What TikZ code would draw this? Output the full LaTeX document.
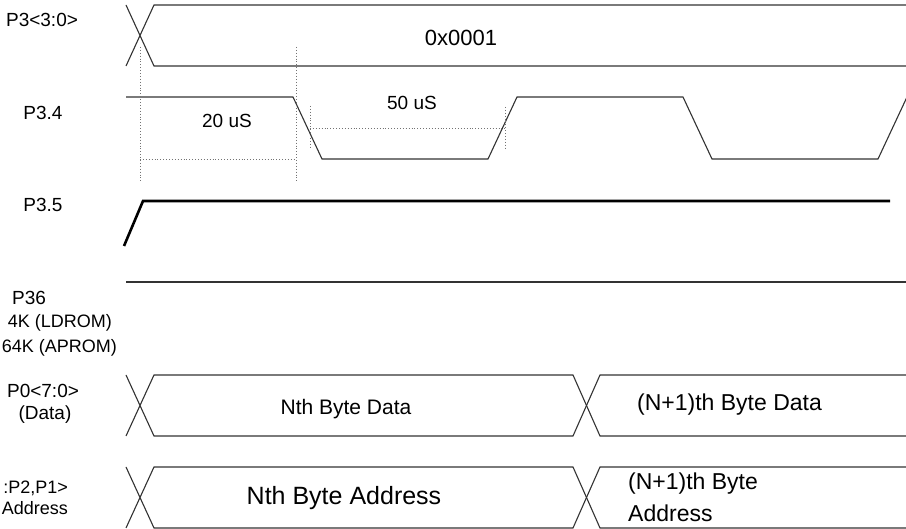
\documentclass[tikz,border=0pt]{standalone}
\usepackage{fontspec}
\setmainfont{Liberation Sans}
\begin{document}
\begin{tikzpicture}[x=1pt,y=-1pt,
  wave/.style={line width=1.1pt, draw=black!80, line join=miter},
  thick wave/.style={line width=2.6pt, draw=black},
  dim/.style={line width=0.9pt, draw=black!55, dotted},
  lbl/.style={inner sep=0pt, font=\fontsize{19}{22}\selectfont},
  slbl/.style={inner sep=0pt, font=\fontsize{18}{21}\selectfont}]
\useasboundingbox (0,0) rectangle (906,529);
\clip (0,0) rectangle (906,529);
\fill[white] (0,0) rectangle (906,529);

% signal labels
\node[lbl] (lp3) at (42,20) {P3<3:0>};
\node[lbl] (lp34) at (43,113) {P3.4};
\node[lbl] (lp35) at (43,205) {P3.5};
\node[lbl] (lp36a) at (29,298) {P36};
\node[slbl, anchor=east] (lp36b) at (112,323) {4K (LDROM)};
\node[slbl, anchor=east] (lp36c) at (117,348) {64K (APROM)};
\node[lbl] (lp0a) at (43,391) {P0<7:0>};
\node[lbl] (lp0b) at (45,415) {(Data)};
\node[slbl, anchor=east] (lp2a) at (68,488) {:P2,P1>};
\node[slbl, anchor=east] (lp2b) at (68,508) {Address};

% P3<3:0> bus
\draw[wave] (126,5) -- (154,66) -- (906,66);
\draw[wave] (126,66) -- (154,5) -- (906,5);
\node[inner sep=0pt, font=\fontsize{22}{26}\selectfont] (v1) at (461,38) {0x0001};

% P3.4
\draw[wave] (126,97) -- (293,97) -- (322,159) -- (488,159) -- (517,97) -- (683,97) -- (712,159) -- (878,159) -- (907,97);

% timing marks
\coordinate (t0a) at (140,47); \coordinate (t0b) at (140,181);
\coordinate (t1a) at (296,47); \coordinate (t1b) at (296,181);
\draw[dim] (t0a) -- (t0b);
\draw[dim] (t1a) -- (t1b);
\draw[dim] (140,159) -- (296,159);
\draw[dim] (310,106) -- (310,148);
\draw[dim] (505,107) -- (505,148);
\draw[dim] (310,128) -- (505,128);
\node[lbl] (d20) at (227,121) {20 uS};
\node[lbl] (d50) at (412,103) {50 uS};

% P3.5
\draw[thick wave] (124,246) -- (143,201) -- (890,201);

% P36
\draw[wave] (126,282) -- (906,282);

% Data bus
\draw[wave] (126,375) -- (154,436) -- (573,436) -- (600,375) -- (906,375);
\draw[wave] (126,436) -- (154,375) -- (573,375) -- (600,436) -- (906,436);
\node[inner sep=0pt, font=\fontsize{21}{24}\selectfont] (nd) at (346,409) {Nth Byte Data};
\node[inner sep=0pt, font=\fontsize{23}{26}\selectfont, anchor=west] (nd1) at (637,405) {(N+1)th Byte Data};

% Address bus
\draw[wave] (126,467) -- (154,528) -- (573,528) -- (600,467) -- (906,467);
\draw[wave] (126,528) -- (154,467) -- (573,467) -- (600,528) -- (906,528);
\node[inner sep=0pt, font=\fontsize{25}{28}\selectfont] (na) at (344,498) {Nth Byte Address};
\node[inner sep=0pt, font=\fontsize{23}{26}\selectfont, anchor=west] (na1a) at (628,484) {(N+1)th Byte};
\node[inner sep=0pt, font=\fontsize{23}{26}\selectfont, anchor=west] (na1b) at (628,513) {Address};
\end{tikzpicture}
\end{document}
